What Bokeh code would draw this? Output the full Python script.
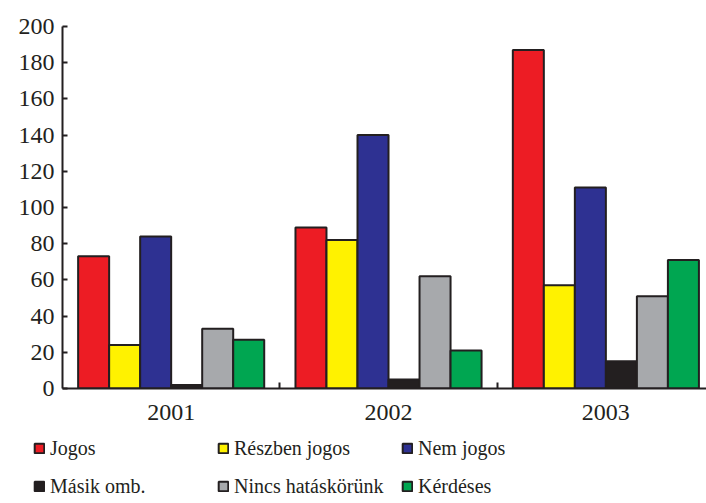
from bokeh.plotting import figure
from bokeh.models import (ColumnDataSource, Range1d, FixedTicker, Legend, LegendItem)
from bokeh.layouts import column
from bokeh.transform import dodge
from bokeh.embed import file_html
from bokeh.resources import INLINE

years = ["2001", "2002", "2003"]
series = ["Jogos", "Részben jogos", "Nem jogos", "Másik omb.", "Nincs hatáskörünk", "Kérdéses"]
jogos = [73, 89, 187]
reszben = [24, 82, 57]
nem_jogos = [84, 140, 111]
masik = [2, 5, 15]
nincs = [33, 62, 51]
kerdeses = [27, 21, 71]
colors = ["#ED1C24", "#FFF200", "#2E3192", "#231F20", "#A7A9AC", "#00A651"]
y_ticks = list(range(0, 201, 20))

values = [jogos, reszben, nem_jogos, masik, nincs, kerdeses]
xpos = [i + 0.5 for i in range(len(years))]
data = {"x": xpos}
for k, v in enumerate(values):
    data["s%d" % k] = v
src = ColumnDataSource(data)

FONT = "'Liberation Serif', 'Times New Roman', serif"
INK = "#231F20"
p = figure(width=706, height=430, output_backend="svg", toolbar_location=None,
           x_range=Range1d(0, 2.963), y_range=Range1d(0, 200),
           min_border_left=62, min_border_right=0, min_border_top=26, min_border_bottom=42)
p.outline_line_color = None
p.grid.visible = False
p.frame_align = False

bw = 0.1427
for k in range(6):
    p.vbar(x=dodge("x", (k - 2.5) * bw, range=p.x_range), top="s%d" % k, width=bw,
           bottom=0, source=src, fill_color=colors[k], line_color=INK, line_width=2)

ya = p.yaxis[0]
ya.ticker = FixedTicker(ticks=y_ticks, minor_ticks=[])
ya.major_tick_in = 5
ya.major_tick_out = 0
ya.minor_tick_in = 0
ya.minor_tick_out = 0
ya.axis_line_width = 2
ya.axis_line_color = INK
ya.major_tick_line_width = 2
ya.major_tick_line_color = INK
ya.major_label_text_font = FONT
ya.major_label_text_font_size = "24px"
ya.major_label_text_color = INK
ya.major_label_standoff = 8

xa = p.xaxis[0]
xa.ticker = FixedTicker(ticks=xpos, minor_ticks=[1, 2])
xa.major_label_overrides = {x: y for x, y in zip(xpos, years)}
xa.major_tick_in = 0
xa.major_tick_out = 0
xa.minor_tick_in = 6
xa.minor_tick_out = 0
xa.minor_tick_line_width = 2
xa.minor_tick_line_color = INK
xa.axis_line_width = 2
xa.axis_line_color = INK
xa.major_label_text_font = FONT
xa.major_label_text_font_size = "24px"
xa.major_label_text_color = INK
xa.major_label_standoff = 16

# legend panel: hidden copies of the bars feed the legend swatches
q = figure(width=706, height=73, output_backend="svg", toolbar_location=None,
           x_range=Range1d(0, 1), y_range=Range1d(0, 1),
           x_axis_location=None, y_axis_location=None,
           min_border_left=0, min_border_right=0, min_border_top=0, min_border_bottom=0)
q.grid.visible = False
q.outline_line_color = None
q.frame_align = False
lrs = [q.vbar(x="x", top="s%d" % k, bottom=0, width=bw, source=src, fill_color=colors[k],
              line_color=INK, line_width=2, visible=False) for k in range(6)]
order = [0, 3, 1, 4, 2, 5]  # column-major fill -> rows read left to right
items = [LegendItem(label=series[k], renderers=[lrs[k]], index=0) for k in order]
legend = Legend(items=items, ncols=3, location=(33, 2),
                label_text_font=FONT, label_text_font_size="20px", label_text_color=INK,
                glyph_width=12, glyph_height=12, label_standoff=5, label_width=159,
                label_height=30, spacing=8, padding=0, margin=0, border_line_color=None,
                background_fill_alpha=0, inactive_fill_alpha=0)
q.add_layout(legend, "center")

layout = column(p, q, spacing=0)
open("out.html", "w").write(file_html(layout, INLINE))
